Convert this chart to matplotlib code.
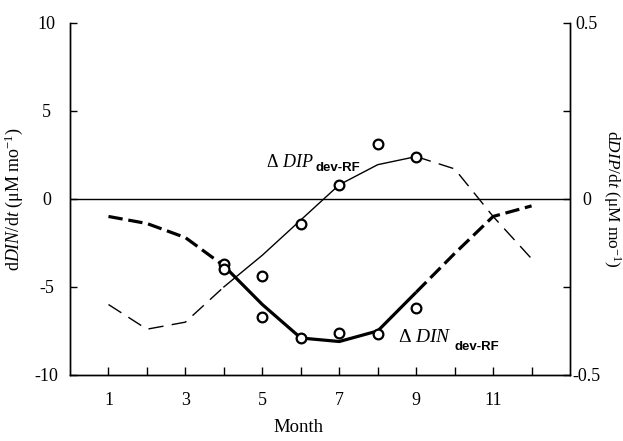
import matplotlib
matplotlib.use("Agg")
import matplotlib.pyplot as plt
from matplotlib.ticker import FixedLocator, NullFormatter

plt.rcParams["font.family"] = ["Liberation Serif", "DejaVu Serif"]
plt.rcParams["mathtext.fontset"] = "custom"
plt.rcParams["mathtext.rm"] = "Liberation Serif"
plt.rcParams["mathtext.it"] = "Liberation Serif:italic"
plt.rcParams["mathtext.bf"] = "Liberation Serif:bold"
plt.rcParams["axes.unicode_minus"] = False

# monthly model deviation (relative to RF run)
months = [1, 2, 3, 4, 5, 6, 7, 8, 9, 10, 11, 12]
din_model = [-1.0, -1.4, -2.2, -3.8, -6.0, -7.9, -8.1, -7.5, -5.3, -3.1, -1.0, -0.4]
dip_model = [-0.30, -0.37, -0.35, -0.25, -0.16, -0.06, 0.04, 0.097, 0.12, 0.085, -0.05, -0.17]

# observed rates
obs_months = [4, 5, 6, 7, 8, 9]
din_obs = [-3.7, -6.7, -7.9, -7.6, -7.7, -6.2]
dip_obs = [-0.20, -0.22, -0.07, 0.04, 0.155, 0.12]

x_major = [1, 3, 5, 7, 9, 11]
x_minor = [2, 4, 6, 8, 10, 12]
din_ticks = [-10, -5, 0, 5, 10]
dip_ticks = [-0.5, 0, 0.5]
dip_minor = [-0.25, 0.25]

fig = plt.figure(figsize=(6.23, 4.41), dpi=100)
ax = fig.add_axes([0.1124, 0.1497, 0.8026, 0.7988])
ax2 = ax.twinx()

# DIN: thick line, dashed outside the observed months
a, b = 3, 8
ax.plot(months[:a + 1], din_model[:a + 1], color="black", lw=2.3, dashes=(4.5, 1.8))
ax.plot(months[a:b + 1], din_model[a:b + 1], color="black", lw=2.3, solid_capstyle="butt")
ax.plot(months[b:], din_model[b:], color="black", lw=2.3, dashes=(4.5, 1.8))
ax.plot(obs_months, din_obs, "o", mfc="white", mec="black", ms=7, mew=1.6)

# DIP: thin line on the right axis
ax2.plot(months[:a + 1], dip_model[:a + 1], color="black", lw=1.0, dashes=(11, 6))
ax2.plot(months[a:b + 1], dip_model[a:b + 1], color="black", lw=1.0)
ax2.plot(months[b:], dip_model[b:], color="black", lw=1.0, dashes=(11, 6))
ax2.plot(obs_months, dip_obs, "o", mfc="white", mec="black", ms=7, mew=1.6)

ax.axhline(0, color="black", lw=1.0)

ax.set_xlim(0, 13)
ax.set_ylim(-10, 10)
ax2.set_ylim(-0.5, 0.5)

ax.xaxis.set_major_locator(FixedLocator(x_major))
ax.xaxis.set_minor_locator(FixedLocator(x_minor))
ax.xaxis.set_minor_formatter(NullFormatter())
ax.set_yticks(din_ticks)
ax2.set_yticks(dip_ticks)
ax2.set_yticklabels(["-0.5", "0", "0.5"])
ax2.yaxis.set_minor_locator(FixedLocator(dip_minor))

ax.tick_params(axis="x", which="both", direction="in", length=6, width=1.0, labelsize=13, pad=12)
ax.tick_params(axis="y", which="both", direction="in", length=5, width=1.0, labelsize=13, pad=17)
ax2.tick_params(axis="y", which="both", direction="in", length=5, width=1.0, labelsize=13, pad=12)
for lbl in ax.get_yticklabels():
    lbl.set_horizontalalignment("center")
for lbl in ax2.get_yticklabels():
    lbl.set_horizontalalignment("center")

for axis in (ax, ax2):
    axis.spines["top"].set_visible(False)
    for s in ("left", "right", "bottom"):
        axis.spines[s].set_linewidth(1.0)

ax.set_xlabel("Month", fontsize=13.5)
ax.xaxis.set_label_coords(0.457, -0.125)
ax.set_ylabel(r"d$\mathit{DIN}$/d$\mathit{t}$ (μM mo$^{-1}$)", fontsize=13)
ax.yaxis.set_label_coords(-0.09, 0.5)
ax2.set_ylabel(r"d$\mathit{DIP}$/d$\mathit{t}$ (μM mo$^{-1}$)", fontsize=12.5,
               rotation=270, va="bottom")
ax2.yaxis.set_label_coords(1.062, 0.5)

# series labels
ax.text(5.1, 1.83, r"$\Delta$ $\mathit{DIP}$", fontsize=13, ha="left", va="baseline")
ax.text(6.37, 1.6, "dev-RF", fontsize=9.5, fontweight="bold",
        family="Liberation Sans", ha="left", va="baseline")
ax.text(8.52, -8.15, r"$\Delta$ $\mathit{DIN}$", fontsize=14, ha="left", va="baseline")
ax.text(9.99, -8.6, "dev-RF", fontsize=9.5, fontweight="bold",
        family="Liberation Sans", ha="left", va="baseline")

fig.savefig("out.png", dpi=100)
